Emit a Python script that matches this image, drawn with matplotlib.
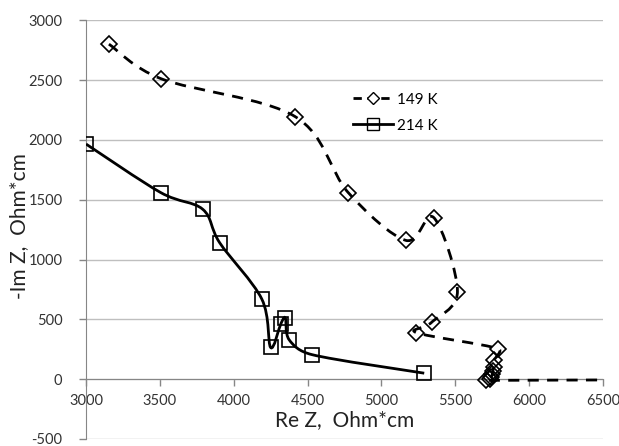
import numpy as np
import matplotlib
matplotlib.use("Agg")
import matplotlib.pyplot as plt
from matplotlib.path import Path
from matplotlib.patches import PathPatch
from matplotlib.lines import Line2D

# 149 K series (diamonds, dashed)
re_149 = [3155, 3510, 4415, 4775, 5165, 5355, 5515, 5340, 5235, 5790, 5765, 5760, 5755, 5750, 5745, 5735, 5710, 7500]
im_149 = [2800, 2510, 2195, 1560, 1160, 1350, 730, 475, 390, 255, 160, 100, 70, 40, 20, 5, -10, 0]

# 214 K series (squares, solid)
re_214 = [3000, 3505, 3790, 3905, 4190, 4250, 4320, 4350, 4375, 4530, 5290]
im_214 = [1965, 1560, 1420, 1140, 670, 265, 465, 510, 330, 205, 50]

x_ticks = [3000, 3500, 4000, 4500, 5000, 5500, 6000, 6500]
y_ticks = [-500, 0, 500, 1000, 1500, 2000, 2500, 3000]

plt.rcParams['font.family'] = ['Lato', 'DejaVu Sans']
plt.rcParams['axes.unicode_minus'] = False

# rough pixels per data unit, only used to limit the bezier handles
SX = 517 / 3500.0
SY = 419 / 3500.0


def smooth_path(xs, ys):
    # excel-like smoothed line, bezier through every point
    p = np.column_stack([xs, ys]).astype(float) * [SX, SY]
    n = len(p)
    verts = [p[0]]
    codes = [Path.MOVETO]
    for i in range(n - 1):
        p0 = p[i - 1] if i > 0 else p[i]
        p1 = p[i]
        p2 = p[i + 1]
        p3 = p[i + 2] if i + 2 < n else p[i + 1]
        seg = np.hypot(*(p2 - p1))
        d1 = (p2 - p0) / 6.0
        d2 = (p3 - p1) / 6.0
        for d in (d1, d2):
            l = np.hypot(*d)
            if l > seg * 0.5 and l > 0:
                d *= seg * 0.5 / l
        verts += [p1 + d1, p2 - d2, p2]
        codes += [Path.CURVE4] * 3
    verts = np.array(verts) / [SX, SY]
    return Path(verts, codes)


fig = plt.figure(figsize=(6.19, 4.46), dpi=100)
ax = fig.add_axes([0.139, 0.0157, 0.835, 0.939])

grid_col = '#bfbfbf'
spine_col = '#868686'

ax.set_xlim(3000, 6500)
ax.set_ylim(-500, 3000)
ax.set_xticks(x_ticks)
ax.set_yticks(y_ticks)
ax.yaxis.grid(True, color=grid_col, lw=1)
ax.set_axisbelow(True)

for s in ['top', 'right']:
    ax.spines[s].set_visible(False)
ax.spines['bottom'].set_position(('data', 0))
ax.spines['bottom'].set_color(spine_col)
ax.spines['left'].set_color(spine_col)
ax.tick_params(axis='both', colors=spine_col, labelcolor='#333333', labelsize=10.5, length=5, width=1)
ax.tick_params(axis='y', pad=12)
ax.tick_params(axis='x', pad=6)

# lines
ax.add_patch(PathPatch(smooth_path(re_149, im_149), fill=False, ec='black', lw=2,
                       ls=(0, (4, 3)), zorder=3))
ax.add_patch(PathPatch(smooth_path(re_214, im_214), fill=False, ec='black', lw=2, zorder=3))

# markers
ax.plot(re_149, im_149, ls='none', marker='D', ms=8, mfc='none', mec='black', mew=1.2, zorder=4)
ax.plot(re_214, im_214, ls='none', marker='s', ms=10, mfc='none', mec='black', mew=1.2, zorder=4)

ax.set_xlabel('Re Z,  Ohm*cm', fontsize=15, color='#222222')
ax.set_ylabel('-Im Z,  Ohm*cm', fontsize=15, color='#222222')
ax.xaxis.set_label_coords(0.5, 0.068)
ax.yaxis.set_label_coords(-0.11, 0.508)

handles = [
    Line2D([], [], color='black', lw=2, ls=(0, (3, 2)), marker='D', ms=6, mfc='white', mec='black'),
    Line2D([], [], color='black', lw=2, marker='s', ms=8, mfc='none', mec='black'),
]
ax.legend(handles, ['149 K', '214 K'], loc='upper left', bbox_to_anchor=(0.49, 0.86),
          frameon=False, fontsize=11, handlelength=2.6, handletextpad=0.3, labelspacing=0.8)

fig.savefig('out.png', dpi=100)
